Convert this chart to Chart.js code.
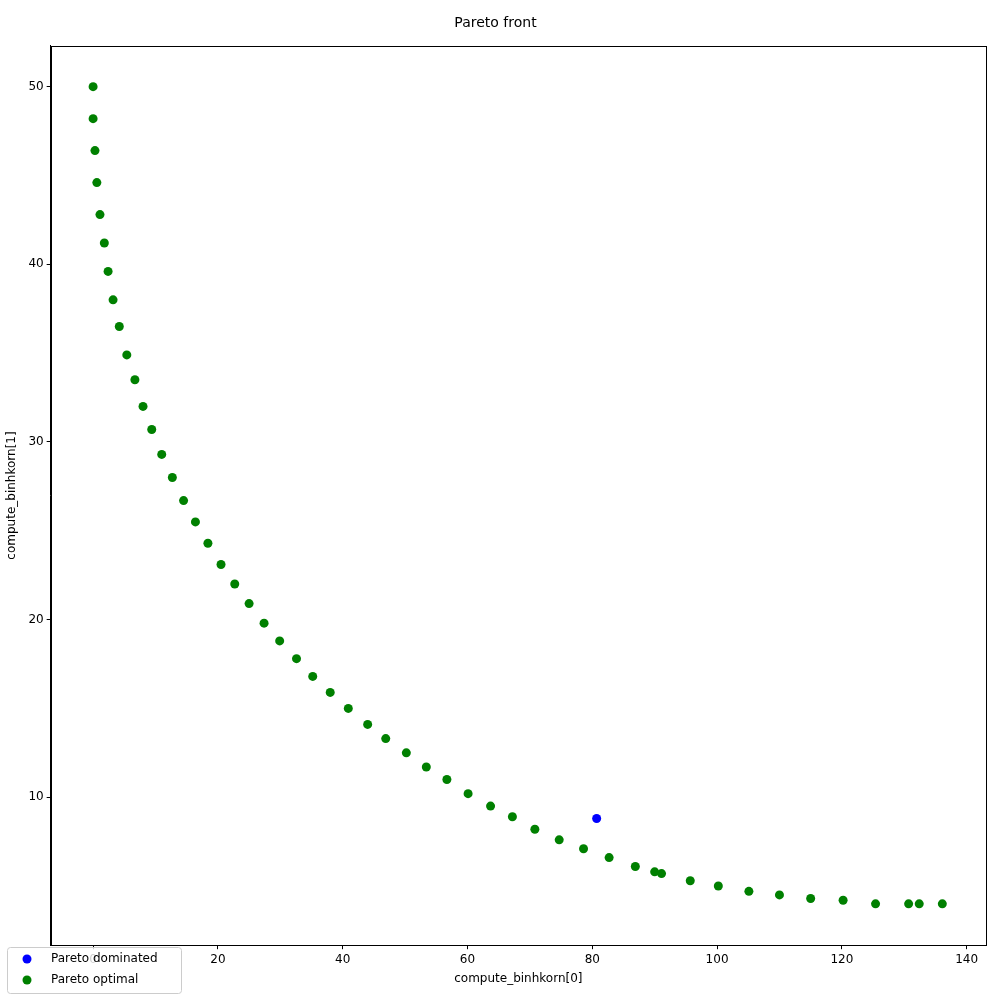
<!DOCTYPE html>
<html><head><script src="https://cdn.jsdelivr.net/npm/chart.js@4"></script>
<style>body{margin:0;background:#fff}</style></head>
<body><canvas id="c" width="1000" height="1000" style="width:1000px;height:1000px;display:block"></canvas>
<script>
const optX=[0,0,0.3,0.6,1.1,1.8,2.4,3.2,4.2,5.4,6.7,8.0,9.4,11.0,12.7,14.5,16.4,18.4,20.5,22.7,25.0,27.4,29.9,32.6,35.2,38.0,40.9,44.0,46.9,50.2,53.4,56.7,60.1,63.7,67.2,70.8,74.7,78.6,82.7,86.9,90.0,91.1,95.7,100.2,105.1,110.0,115.0,120.2,125.4,130.7,132.4,136.1];
const optY=[50,48.2,46.4,44.6,42.8,41.2,39.6,38.0,36.5,34.9,33.5,32.0,30.7,29.3,28.0,26.7,25.5,24.3,23.1,22.0,20.9,19.8,18.8,17.8,16.8,15.9,15.0,14.1,13.3,12.5,11.7,11.0,10.2,9.5,8.9,8.2,7.6,7.1,6.6,6.1,5.8,5.7,5.3,5.0,4.7,4.5,4.3,4.2,4.0,4.0,4.0,4.0];
const domX=[80.7], domY=[8.8];
const xTicks=[0,20,40,60,80,100,120,140], yTicks=[10,20,30,40,50];
const legendLabels=['Pareto dominated','Pareto optimal'], legendColors=['#0000ff','#008000'];
const pts=(xs,ys)=>xs.map((x,i)=>({x,y:ys[i]}));
const frame={id:'frame',afterDraw(c){const a=c.chartArea,g=c.ctx;g.save();g.strokeStyle='#000';g.lineWidth=1;
g.strokeRect(Math.round(a.left)+0.5,Math.round(a.top)+0.5,Math.round(a.right-a.left),Math.round(a.bottom-a.top));
// legend box
g.fillStyle='rgba(255,255,255,0.8)';g.strokeStyle='#ccc';g.beginPath();g.roundRect(7.5,947.5,174,46,3);g.fill();g.stroke();
g.font='12px "DejaVu Sans"';g.textBaseline='middle';
legendLabels.forEach((t,i)=>{const y=959+i*21;g.fillStyle=legendColors[i];g.beginPath();g.arc(27,y,4.5,0,Math.PI*2);g.fill();g.fillStyle='#000';g.fillText(t,51,y);});
g.restore();}};
const tk={color:'#000',font:{family:'DejaVu Sans',size:12}};
new Chart(document.getElementById('c'),{type:'scatter',
data:{datasets:[
{label:'Pareto dominated',data:pts(domX,domY),backgroundColor:'#0000ff',borderColor:'#0000ff',pointRadius:4.5,borderWidth:0},
{label:'Pareto optimal',data:pts(optX,optY),backgroundColor:'#008000',borderColor:'#008000',pointRadius:4.5,borderWidth:0}]},
options:{responsive:false,animation:false,devicePixelRatio:1,
layout:{padding:{left:5,right:14,top:5,bottom:14}},
plugins:{title:{display:true,text:'Pareto front',color:'#000',font:{family:'DejaVu Sans',size:14,weight:'normal'},padding:{top:10,bottom:14}},
legend:{display:false},tooltip:{enabled:false}},
scales:{
x:{type:'linear',min:-6.8,max:143.1,afterBuildTicks(s){s.ticks=xTicks.map(v=>({value:v}));},
grid:{drawOnChartArea:false,drawTicks:true,tickLength:4,color:'#000'},border:{color:'#000'},ticks:tk,
title:{display:true,text:'compute_binhkorn[0]',color:'#000',font:{family:'DejaVu Sans',size:12},padding:{top:2,bottom:0}}},
y:{type:'linear',min:1.67,max:52.3,afterBuildTicks(s){s.ticks=yTicks.map(v=>({value:v}));},
grid:{drawOnChartArea:false,drawTicks:true,tickLength:4,color:'#000'},border:{color:'#000'},ticks:tk,
title:{display:true,text:'compute_binhkorn[1]',color:'#000',font:{family:'DejaVu Sans',size:12},padding:{top:0,bottom:6}}}}},
plugins:[frame]});
</script></body></html>
